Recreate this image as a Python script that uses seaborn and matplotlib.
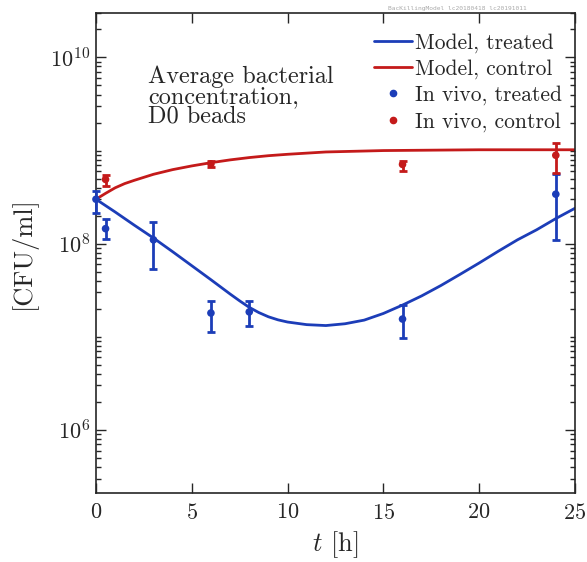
import numpy as np
import pandas as pd
import matplotlib
matplotlib.use("Agg")
import matplotlib.pyplot as plt
import matplotlib.ticker as mticker
from matplotlib.lines import Line2D
import seaborn as sns

# model curves
t_model_treated = [0, 1, 2, 3, 4, 5, 6, 7, 7.5, 8, 8.5, 9, 9.5, 10, 11, 12, 13, 14, 15, 16,
                   17, 18, 19, 20, 21, 22, 23, 24, 25]
model_treated = [3.0e8, 2.19e8, 1.58e8, 1.15e8, 8.2e7, 5.8e7, 4.1e7, 2.88e7, 2.43e7, 2.07e7,
                 1.82e7, 1.64e7, 1.52e7, 1.44e7, 1.35e7, 1.32e7, 1.38e7, 1.51e7, 1.78e7, 2.19e7,
                 2.75e7, 3.55e7, 4.68e7, 6.2e7, 8.3e7, 1.10e8, 1.41e8, 1.86e8, 2.40e8]
t_model_control = [0, 0.5, 1, 1.5, 2, 3, 4, 5, 6, 7, 8, 9, 10, 12, 15, 20, 25]
model_control = [3.0e8, 3.47e8, 3.98e8, 4.42e8, 4.79e8, 5.56e8, 6.24e8, 6.84e8, 7.41e8, 7.94e8,
                 8.41e8, 8.81e8, 9.12e8, 9.66e8, 1.0e9, 1.02e9, 1.02e9]

# in vivo measurements
t_treated = [0, 0.5, 3, 6, 8, 16, 24]
cfu_treated = [3.0e8, 1.45e8, 1.1e8, 1.8e7, 1.85e7, 1.55e7, 3.4e8]
lo_treated = [2.15e8, 1.12e8, 5.4e7, 1.12e7, 1.29e7, 9.8e6, 1.1e8]
hi_treated = [3.7e8, 1.86e8, 1.7e8, 2.4e7, 2.45e7, 2.2e7, 5.6e8]

t_control = [0.5, 6, 16, 24]
cfu_control = [4.9e8, 7.2e8, 7.1e8, 8.9e8]
lo_control = [4.2e8, 6.6e8, 6.1e8, 5.8e8]
hi_control = [5.4e8, 7.8e8, 7.8e8, 1.2e9]

blue = "#1c3db8"
red = "#c41a1a"

sns.set_style("ticks")
plt.rcParams["font.family"] = "serif"
plt.rcParams["font.serif"] = ["cmr10", "DejaVu Serif"]
plt.rcParams["mathtext.fontset"] = "cm"
plt.rcParams["axes.formatter.use_mathtext"] = True
plt.rcParams["axes.unicode_minus"] = False

fig = plt.figure(figsize=(5.87, 5.62), dpi=100)
ax = fig.add_axes([0.1635, 0.1228, 0.816, 0.854])

models = pd.DataFrame({"t": t_model_treated + t_model_control,
                       "cfu": model_treated + model_control,
                       "kind": ["treated"] * len(t_model_treated) + ["control"] * len(t_model_control)})
sns.lineplot(data=models, x="t", y="cfu", hue="kind", palette={"treated": blue, "control": red},
             linewidth=2.0, legend=False, ax=ax)

ax.errorbar(t_treated, cfu_treated,
            yerr=[np.array(cfu_treated) - np.array(lo_treated), np.array(hi_treated) - np.array(cfu_treated)],
            fmt="none", ecolor=blue, elinewidth=2.0, capsize=3, capthick=2.0, zorder=3, clip_on=False)
ax.errorbar(t_control, cfu_control,
            yerr=[np.array(cfu_control) - np.array(lo_control), np.array(hi_control) - np.array(cfu_control)],
            fmt="none", ecolor=red, elinewidth=2.0, capsize=3, capthick=2.0, zorder=3, clip_on=False)
sns.scatterplot(x=t_treated, y=cfu_treated, color=blue, s=30, edgecolor="none", zorder=4,
                clip_on=False, ax=ax)
sns.scatterplot(x=t_control, y=cfu_control, color=red, s=30, edgecolor="none", zorder=4,
                clip_on=False, ax=ax)

ax.set_yscale("log")
ax.set_xlim(0, 25)
ax.set_ylim(2.1e5, 3.0e10)
ax.set_xticks([0, 5, 10, 15, 20, 25])
ax.yaxis.set_major_locator(mticker.FixedLocator([1e6, 1e8, 1e10]))
ax.yaxis.set_major_formatter(mticker.LogFormatterMathtext())
ax.yaxis.set_minor_locator(mticker.LogLocator(base=10, subs=np.arange(1, 10), numticks=30))
ax.yaxis.set_minor_formatter(mticker.NullFormatter())
ax.tick_params(which="both", direction="in", top=True, right=True, labelsize=16, width=1.0)
ax.tick_params(which="major", length=7)
ax.tick_params(which="minor", length=3.5)
ax.tick_params(axis="x", pad=7)
ax.tick_params(axis="y", pad=4)
for s in ax.spines.values():
    s.set_linewidth(1.2)
    s.set_visible(True)

ax.set_xlabel(r"$t$ [h]", fontsize=19, labelpad=5)
ax.set_ylabel("[CFU/ml]", fontsize=19, labelpad=10)

ax.text(0.109, 0.89, "Average bacterial\nconcentration,\nD0 beads", transform=ax.transAxes,
        fontsize=17.5, va="top", ha="left", linespacing=0.85)

handles = [Line2D([], [], color=blue, lw=2.0),
           Line2D([], [], color=red, lw=2.0),
           Line2D([], [], color=blue, marker="o", ls="none", ms=4.5),
           Line2D([], [], color=red, marker="o", ls="none", ms=4.5)]
labels = ["Model, treated", "Model, control", "In vivo, treated", "In vivo, control"]
ax.legend(handles, labels, loc="upper right", bbox_to_anchor=(1.0, 0.986), frameon=False,
          fontsize=15.5, handlelength=1.75, handletextpad=0.15, labelspacing=0.3,
          borderaxespad=0.2)

fig.text(0.78, 0.985, "BacKillingModel lc20180418 lc20191011", fontsize=4.5, color="#aaaaaa",
         ha="center", va="center", family="DejaVu Sans Mono")

fig.savefig("out.png", dpi=100)
